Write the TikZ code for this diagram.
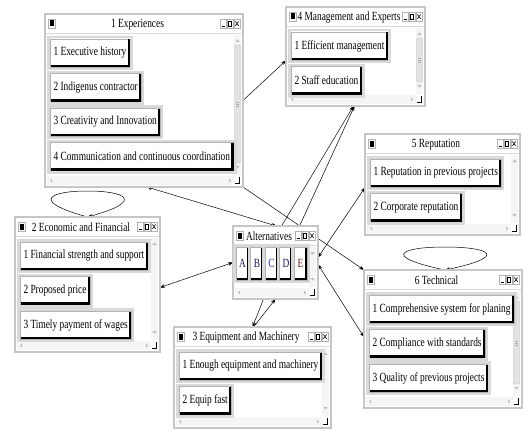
\documentclass[tikz,border=0pt]{standalone}
\usepackage{fontspec}
\setmainfont{Liberation Serif}[FakeStretch=0.75]
\usetikzlibrary{arrows.meta,calc,backgrounds}
\definecolor{ltrdark}{RGB}{25,25,85}
\definecolor{ltrblue}{RGB}{35,55,150}
\definecolor{ltrbrown}{RGB}{100,35,30}
\tikzset{
 winbox/.style={rectangle, draw=gray!45, fill=white, line width=1.2pt, inner sep=0pt, outer sep=0pt},
 btn/.style={rectangle, anchor=north west, draw=gray!60, fill=white, line width=0.4pt, minimum height=28pt, inner xsep=3.5pt, inner ysep=0pt, outer sep=0pt, text=black},
 altbtn/.style={btn, minimum width=13pt, minimum height=33pt, inner xsep=0pt},
 titletext/.style={inner sep=0pt, text=black},
 conn/.style={draw=black, line width=0.5pt},
 >={Stealth[length=5pt,width=3.6pt]},
}
\newcommand\mybtn[5][btn]{%
 \node[#1] (#2) at (#3,#4) {#5};
 \draw[gray!30, line width=2.5pt] ([xshift=-1.75pt,yshift=1.75pt]#2.north west) rectangle ([xshift=1.75pt,yshift=-1.75pt]#2.south east);
 \draw[black, line width=2.2pt] ([xshift=0.5pt,yshift=1.1pt]#2.south west) -- ([xshift=-1.1pt,yshift=1.1pt]#2.south east) -- ([xshift=-1.1pt,yshift=-0.5pt]#2.north east);
}
\newcommand\mywin[7]{%
 \node[winbox, minimum width={#4-#2}, minimum height={#5-#3}] (#1) at ({(#2+#4)/2},{(#3+#5)/2}) {};
 \draw[gray!30, line width=1pt] (#2+1,#3+19.5) -- (#4-1,#3+19.5);
 \filldraw[draw=gray!60, fill=white, line width=0.4pt] (#2+3,#3+5) rectangle (#2+10,#3+14);
 \fill[black] (#2+4.5,#3+6.5) rectangle (#2+8.5,#3+12.5);
 \foreach \k in {0,1,2}{\filldraw[draw=gray!60, fill=white, line width=0.4pt] (#4-23+7*\k,#3+5) rectangle (#4-17+7*\k,#3+14);}
 \draw[black, line width=1pt] (#4-21.5,#3+12.2) -- (#4-18.5,#3+12.2);
 \draw[black, line width=0.6pt] (#4-14.7,#3+7) rectangle (#4-11.3,#3+12);
 \draw[black, line width=0.6pt] (#4-7.6,#3+7.5) -- (#4-4.4,#3+11.8) (#4-7.6,#3+11.8) -- (#4-4.4,#3+7.5);
 \node[titletext] (#1t) at ({(#2+#4-13)/2},#3+10.5) {#6};
 \fill[gray!8] (#4-9,#3+21) rectangle (#4-2,#5-12);
 \fill[gray!55] (#4-7.5,#3+28) -- (#4-3.5,#3+28) -- (#4-5.5,#3+25.5) -- cycle;
 \fill[gray!55] (#4-7.5,#5-21) -- (#4-3.5,#5-21) -- (#4-5.5,#5-18.5) -- cycle;
 \ifnum#7=1
  \filldraw[fill=gray!22, draw=gray!50, line width=0.4pt, rounded corners=1.5pt] (#4-8.5,#3+31) rectangle (#4-2.5,#5-24);
  \draw[gray!65, line width=0.4pt] ({#4-7},{(#3+#5)/2+2}) -- ({#4-4},{(#3+#5)/2+2}) ({#4-7},{(#3+#5)/2+4}) -- ({#4-4},{(#3+#5)/2+4}) ({#4-7},{(#3+#5)/2+6}) -- ({#4-4},{(#3+#5)/2+6});
 \fi
 \fill[gray!8] (#2+2,#5-11) rectangle (#4-9,#5-2);
 \fill[gray!50] (#2+7,#5-8.5) -- (#2+7,#5-4.5) -- (#2+5,#5-6.5) -- cycle;
 \fill[gray!50] (#4-14,#5-8.5) -- (#4-14,#5-4.5) -- (#4-12,#5-6.5) -- cycle;
 \draw[black, line width=0.8pt] (#4-8,#5-3.5) -- (#4-3.5,#5-3.5) -- (#4-3.5,#5-10);
}
\begin{document}
\begin{tikzpicture}[x=1pt,y=-1pt,font=\fontsize{12.5}{14}\selectfont]
\useasboundingbox (0,0) rectangle (524,436);
% 1 Experiences
\mywin{w1}{45}{14}{243}{187}{1 Experiences}{1}
\mybtn{w1a}{50}{39}{1 Executive history}
\mybtn{w1b}{50}{73.5}{2 Indigenus contractor}
\mybtn{w1c}{50}{108}{3 Creativity and Innovation}
\mybtn{w1d}{50}{142.5}{4 Communication and continuous coordination}
% 4 Management and Experts
\mywin{w4}{286}{7}{425}{106}{4 Management and Experts}{1}
\mybtn{w4a}{291}{32}{1 Efficient management}
\mybtn{w4b}{291}{66.5}{2 Staff education}
% 5 Reputation
\mywin{w5}{365}{134}{520}{235}{5 Reputation}{0}
\mybtn{w5a}{370}{159}{1 Reputation in previous projects}
\mybtn{w5b}{370}{193.5}{2 Corporate reputation}
% 2 Economic and Financial
\mywin{w2}{15}{217}{160}{352}{2 Economic and Financial}{0}
\mybtn{w2a}{20}{242}{1 Financial strength and support}
\mybtn{w2b}{20}{276.5}{2 Proposed price}
\mybtn{w2c}{20}{311}{3 Timely payment of wages}
% 3 Equipment and Machinery
\mywin{w3}{174}{327}{331}{428}{3 Equipment and Machinery}{0}
\mybtn{w3a}{179}{352}{1 Enough equipment and machinery}
\mybtn{w3b}{179}{386.5}{2 Equip fast}
% 6 Technical
\mywin{w6}{364}{270}{522}{408}{6 Technical}{1}
\mybtn{w6a}{369}{295}{1 Comprehensive system for planing}
\mybtn{w6b}{369}{329.5}{2 Compliance with standards}
\mybtn{w6c}{369}{364}{3 Quality of previous projects}
% Alternatives
\mywin{alt}{233}{226}{318}{299}{Alternatives}{0}
\mybtn[altbtn]{altA}{236}{247}{\textcolor{ltrdark}{A}}
\mybtn[altbtn]{altB}{250.5}{247}{\textcolor{ltrdark}{B}}
\mybtn[altbtn]{altC}{265}{247}{\textcolor{ltrblue}{C}}
\mybtn[altbtn]{altD}{279.5}{247}{\textcolor{ltrdark}{D}}
\mybtn[altbtn]{altE}{294}{247}{\textcolor{ltrbrown}{E}}
% connectors
\begin{scope}[on background layer]
\fill[white] (0,0) rectangle (524,436);
\draw[conn,->] (w1.east) -- ($(w4.west)+(0,4)$);
\draw[conn,<->] ($(w1.south)+(3,0)$) -- ($(alt.north)+(1,0)$);
\draw[conn,->] (w1.south east) -- (w6.north west);
\draw[conn,->] ($(alt.north)+(6,0)$) -- ($(w4.south)+(-2,0)$);
\draw[conn,->] ($(alt.north)+(24,0)$) -- ($(w4.south)+(-1,0)$);
\draw[conn,<->] ($(alt.east)+(0,-5)$) -- ($(w5.west)+(0,3)$);
\draw[conn,<->] ($(alt.east)+(0,2)$) -- ($(w6.west)+(0,-2)$);
\draw[conn,<->] ($(w2.east)+(0,3)$) -- (alt.west);
\draw[conn,->] ($(alt.south)+(-12,0)$) -- ($(w3.north)+(0,0)$);
\draw[conn,->] ($(w3.north)+(1,0)$) -- ($(alt.south)+(0,0)$);
\draw[conn,->] (w2.north) .. controls +(-58,-16) and +(-38,0) .. ($(w2.north)+(0,-26)$) .. controls +(38,0) and +(58,-16) .. (w2.north);
\draw[conn,->] ($(w6.north)+(2,0)$) .. controls +(-66,-14) and +(-43,0) .. ($(w6.north)+(2,-23)$) .. controls +(43,0) and +(66,-14) .. ($(w6.north)+(2,0)$);
\end{scope}
\end{tikzpicture}
\end{document}
